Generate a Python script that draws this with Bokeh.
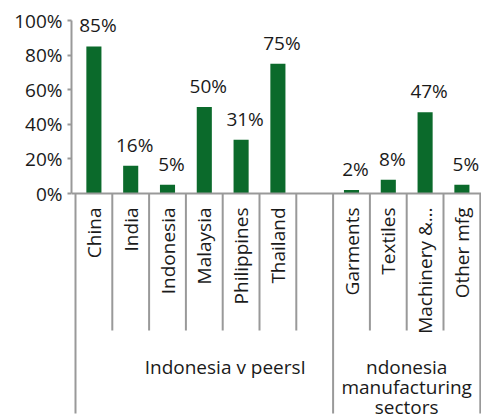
from bokeh.plotting import figure
from bokeh.models import (Range1d, LinearAxis, FixedTicker, PrintfTickFormatter,
                          ColumnDataSource, Span)
from bokeh.core.properties import value
from bokeh.embed import file_html
from bokeh.resources import INLINE

# ---- data ----
peer_categories = ["China", "India", "Indonesia", "Malaysia", "Philippines", "Thailand"]
peer_values = [85, 16, 5, 50, 31, 75]
mfg_categories = ["Garments", "Textiles", "Machinery &\u2026", "Other mfg"]
mfg_values = [2, 8, 47, 5]
group_labels = ["Indonesia v peersI", "ndonesia\nmanufacturing\nsectors"]
y_ticks = [0, 20, 40, 60, 80, 100]

# ---- style ----
FONT = value("Open Sans")
FS = "19px"
GREEN = "#0b6a2b"
GREY = "#999999"
TXT = "#1a1a1a"

# slot layout: peers, one empty slot, then manufacturing sectors
n_peer = len(peer_categories)
peer_x = list(range(n_peer))
mfg_start = n_peer + 1
mfg_x = [mfg_start + i for i in range(len(mfg_categories))]
n_slots = mfg_start + len(mfg_categories)

all_x = peer_x + mfg_x
all_cats = peer_categories + mfg_categories
all_vals = peer_values + mfg_values

# pixel geometry helpers (frame: 71..481 px wide, 0..420 px tall)
PX_PER_SLOT = 36.8
PX_PER_PCT = 1.73
x0 = -0.5 - 4.0 / PX_PER_SLOT
x1 = x0 + 410.0 / PX_PER_SLOT
y_top = 100 + 20 / PX_PER_PCT
y_bot = -(227) / PX_PER_PCT

p = figure(width=481, height=420, output_backend="svg", toolbar_location=None,
           x_axis_type=None, y_axis_type=None,
           x_range=Range1d(x0, x1), y_range=Range1d(y_bot, y_top),
           min_border=0, min_border_left=71)
p.outline_line_color = None
p.background_fill_color = "white"
p.border_fill_color = "white"

yaxis = LinearAxis(ticker=FixedTicker(ticks=y_ticks),
                   formatter=PrintfTickFormatter(format="%d%%"),
                   bounds=(0, 100))
yaxis.axis_line_color = GREY
yaxis.axis_line_width = 2
yaxis.major_tick_line_color = GREY
yaxis.major_tick_line_width = 2
yaxis.major_tick_out = 4
yaxis.major_tick_in = 0
yaxis.minor_tick_line_color = None
yaxis.major_label_standoff = 5
yaxis.major_label_text_font = "Open Sans"
yaxis.major_label_text_font_size = FS
yaxis.major_label_text_color = TXT
p.add_layout(yaxis, "left")

# bars
src = ColumnDataSource(dict(x=all_x, top=all_vals, cat=all_cats,
                            lab=[f"{v}%" for v in all_vals]))
p.vbar(x="x", top="top", bottom=0, width=0.41, source=src,
       fill_color=GREEN, line_color=None)

# value labels
p.text(x="x", y="top", text="lab", source=src, text_font=FONT,
       text_font_size=FS, text_color=TXT, text_align="center",
       text_baseline="alphabetic", x_offset=4, y_offset=-21)

# baseline of the category axis
p.add_layout(Span(location=0, dimension="width", line_color=GREY, line_width=2))

# category separators
short_depth = -(137) / PX_PER_PCT
long_depth = -(220) / PX_PER_PCT
long_b = [-0.5, n_peer + 0.5, n_slots - 0.5]
short_b = [i + 0.5 for i in range(n_peer)] + [m + 0.5 for m in mfg_x[:-1]]
p.segment(x0=short_b, y0=[0] * len(short_b), x1=short_b, y1=[short_depth] * len(short_b),
          line_color=GREY, line_width=2)
p.segment(x0=long_b, y0=[0] * len(long_b), x1=long_b, y1=[long_depth] * len(long_b),
          line_color=GREY, line_width=2)

# category labels (rotated)
p.text(x="x", y=0, text="cat", source=src, angle=1.5708, text_font=FONT,
       text_font_size=FS, text_color=TXT, text_align="right",
       text_baseline="middle", y_offset=14)

# group labels
g1_center = (-0.5 + n_peer + 0.5) / 2
g2_center = (n_peer + 0.5 + n_slots - 0.5) / 2
gx, gy, gt, goff = [], [], [], []
for cx, lab, shift in [(g1_center, group_labels[0], 21), (g2_center, group_labels[1], 0)]:
    for i, line in enumerate(lab.split("\n")):
        gx.append(cx + shift / PX_PER_SLOT)
        gy.append(0)
        gt.append(line)
        goff.append(173 + 20 * i)
p.text(x=gx, y=gy, text=gt, y_offset=goff, text_font=FONT, text_font_size=FS,
       text_color=TXT, text_align="center", text_baseline="alphabetic")

open("out.html", "w").write(file_html(p, INLINE))
